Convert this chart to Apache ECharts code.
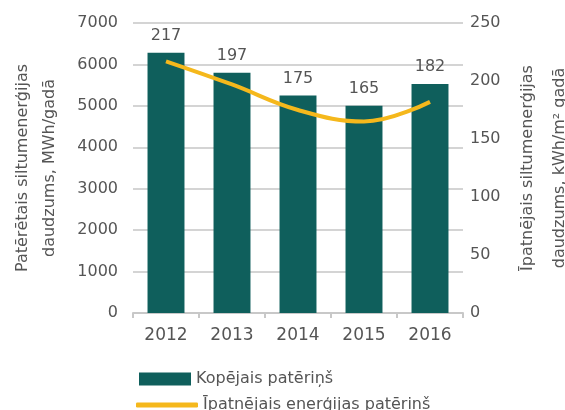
<!DOCTYPE html>
<html>
<head>
<meta charset="utf-8">
<script src="https://cdn.jsdelivr.net/npm/echarts@6/dist/echarts.min.js"></script>
<style>
  html, body { margin: 0; padding: 0; background: #fff; }
  #chart { width: 565px; height: 410px; }
</style>
</head>
<body>
<div id="chart"></div>
<script>
// dati
const years = ['2012', '2013', '2014', '2015', '2016'];
const totalUse = [6280, 5800, 5250, 5000, 5530];      // MWh/gadā
const specificUse = [217, 197, 175, 165, 182];        // kWh/m² gadā
const leftTicks = { min: 0, max: 7000, interval: 1000 };
const rightTicks = { min: 0, max: 250, interval: 50 };

const textColor = '#555';
const font = 'DejaVu Sans';
const barColor = '#0f5f5c';
const lineColor = '#f5b81c';

const chart = echarts.init(document.getElementById('chart'));

chart.setOption({
    animation: false,
    backgroundColor: '#fff',
    textStyle: { fontFamily: font, color: textColor },
    grid: { left: 133, right: 102, top: 23, bottom: 97, containLabel: false, outerBoundsMode: 'none' },
    legend: [
        {
            data: [{ name: 'Kopējais patēriņš', icon: 'rect' }],
            left: 134, top: 366,
            itemWidth: 52, itemHeight: 13, itemGap: 6,
            textStyle: { fontSize: 16, color: textColor, fontFamily: font }
        },
        {
            data: [{ name: 'Īpatnējais enerģijas patēriņš', icon: 'roundRect',
                     itemStyle: { color: lineColor, opacity: 1 } }],
            left: 131, top: 392,
            itemWidth: 62, itemHeight: 5, itemGap: 2,
            textStyle: { fontSize: 16, color: textColor, fontFamily: font }
        }
    ],
    xAxis: {
        type: 'category',
        data: years,
        axisLine: { lineStyle: { color: '#c8c8c8', width: 2 } },
        axisTick: { show: true, lineStyle: { color: '#c8c8c8', width: 2 } },
        axisLabel: { fontSize: 17, color: textColor, margin: 14 }
    },
    yAxis: [
        {
            type: 'value',
            min: leftTicks.min, max: leftTicks.max, interval: leftTicks.interval,
            name: 'Patērētais siltumenerģijas\ndaudzums, MWh/gadā',
            nameLocation: 'middle',
            nameRotate: 90,
            nameGap: 70,
            nameTextStyle: { fontSize: 16, color: textColor, lineHeight: 27 },
            axisLine: { show: false },
            axisTick: { show: false },
            axisLabel: { fontSize: 16, color: textColor, margin: 15, formatter: v => String(v) },
            splitLine: { lineStyle: { color: '#d4d4d4', width: 2 } }
        },
        {
            type: 'value',
            position: 'right',
            min: rightTicks.min, max: rightTicks.max, interval: rightTicks.interval,
            name: 'Īpatnējais siltumenerģijas\ndaudzums, kWh/m² gadā',
            nameLocation: 'middle',
            nameRotate: 90,
            nameGap: 29,
            nameTextStyle: { fontSize: 16, color: textColor, lineHeight: 32 },
            axisLine: { show: false },
            axisTick: { show: false },
            axisLabel: { fontSize: 16, color: textColor, margin: 7, formatter: v => String(v) },
            splitLine: { show: false }
        }
    ],
    series: [
        {
            name: 'Kopējais patēriņš',
            type: 'bar',
            data: totalUse,
            barWidth: '56%',
            itemStyle: { color: barColor },
            // virs stabiņiem rāda īpatnējo patēriņu
            label: {
                show: true,
                position: 'top',
                distance: 9,
                fontSize: 16,
                color: textColor,
                formatter: p => String(specificUse[p.dataIndex])
            }
        },
        {
            name: 'Īpatnējais enerģijas patēriņš',
            type: 'line',
            yAxisIndex: 1,
            data: specificUse,
            smooth: 0.4,
            symbol: 'none',
            lineStyle: { color: lineColor, width: 4 },
            itemStyle: { color: lineColor }
        }
    ]
});
</script>
</body>
</html>
